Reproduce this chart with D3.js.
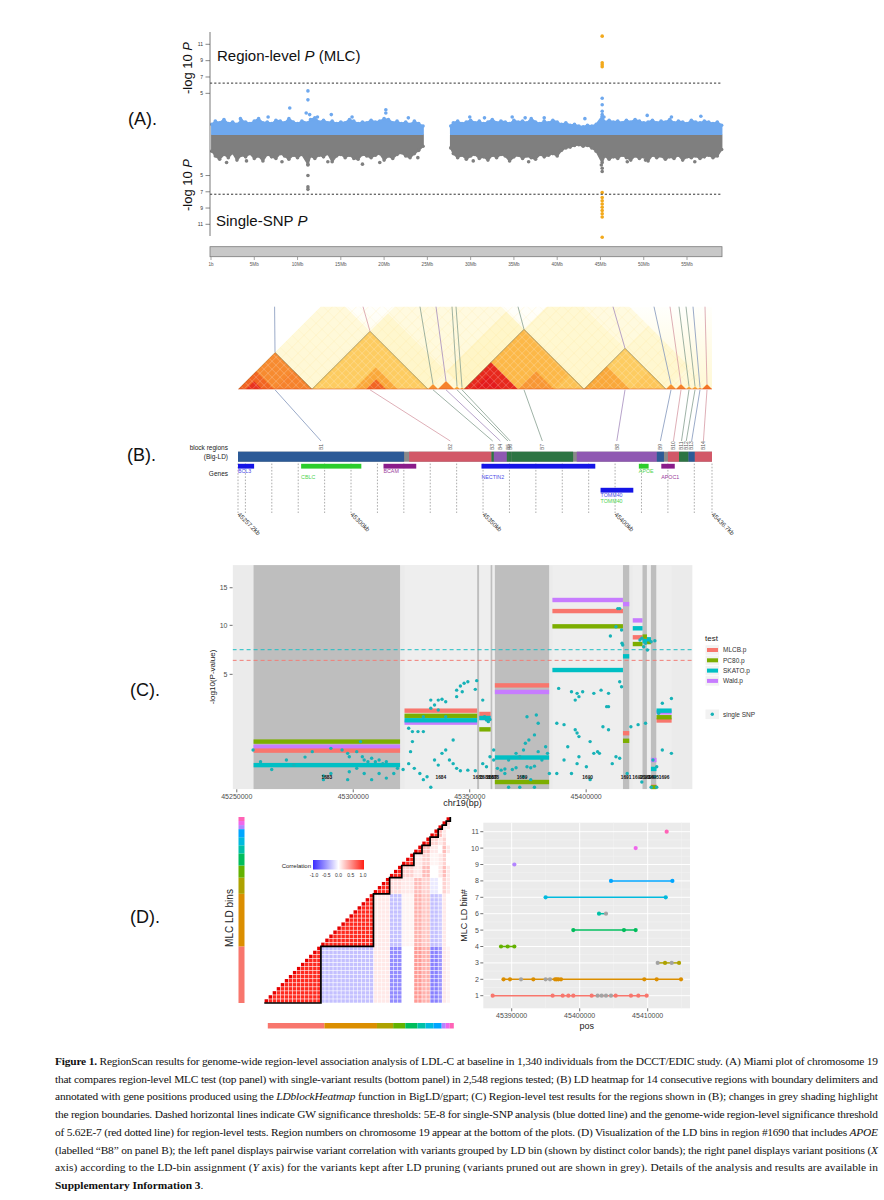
<!DOCTYPE html>
<html><head><meta charset="utf-8">
<script src="https://cdn.jsdelivr.net/npm/d3@7"></script>
<style>body{margin:0;background:#fff}svg{display:block}</style>
</head><body>
<script>
// ======================= DATA =======================
// ---- Panel A (Miami plot, chromosome 19) ----
const chrTicksMb = [0,5,10,15,20,25,30,35,40,45,50,55];
const chrTickLabels = ["1b","5Mb","10Mb","15Mb","20Mb","25Mb","30Mb","35Mb","40Mb","45Mb","50Mb","55Mb"];
const yTicksA = [5,7,9,11];
const cloudMbL = [0.1,0.5,1,1.5,2,2.5,3,3.5,4,4.5,5,5.5,6,6.5,7,7.5,8,8.5,9,9.5,10,10.5,11.2,11.5,12,12.5,13,13.5,14,14.5,15,15.5,16,16.5,17,17.5,18,18.5,19,19.5,20,20.5,21,21.5,22,22.5,23,23.5,24,24.5];
const cloudTopL = [1.2,1.6,1.4,1.8,1.3,1.5,1.2,1.7,1.5,1.3,1.6,1.9,1.4,1.5,1.3,1.7,1.6,1.4,1.9,1.5,1.3,1.6,1.4,1.8,2.0,1.5,1.7,1.4,1.6,1.3,1.5,1.4,1.8,1.6,1.3,1.5,1.4,1.7,1.5,1.6,1.9,1.8,1.4,1.6,1.3,1.5,1.2,1.6,1.3,1.0];
const cloudBotL = [2.0,2.6,3.0,2.4,2.8,2.2,3.1,2.5,2.7,2.3,2.9,2.6,3.2,2.4,2.7,2.9,2.3,2.6,3.0,2.5,2.8,2.4,3.6,2.6,2.9,2.5,2.7,2.3,3.3,2.6,2.4,2.8,2.5,2.9,3.0,2.4,2.6,2.8,2.5,2.3,3.1,2.6,2.9,2.4,2.2,2.6,2.8,2.3,1.9,1.4];
const cloudMbR = [27.7,28,28.5,29,29.5,30,30.5,31,31.5,32,32.5,33,33.5,34,34.5,35,35.5,36,36.5,37,37.5,38,38.5,39,39.5,40,40.5,41,41.5,42,42.5,43,43.5,44,44.5,45.2,45.5,46,46.5,47,47.5,48,48.5,49,49.5,50,50.5,51,51.5,52,52.5,53,53.5,54,54.5,55,55.5,56,56.5,57,57.5,58,58.5,59];
const cloudTopR = [1.0,1.4,1.6,1.3,1.5,1.7,1.4,1.6,1.3,1.5,1.8,1.4,1.6,1.5,1.3,1.7,1.5,1.6,1.4,1.9,1.5,1.3,1.6,1.4,1.7,1.5,1.2,1.4,1.1,1.2,1.0,0.9,1.1,1.0,1.2,2.2,1.5,1.7,1.5,1.6,1.4,1.7,1.5,1.8,1.6,1.4,1.5,1.7,1.4,1.6,1.5,1.8,1.4,1.6,1.5,1.3,1.7,1.5,1.4,1.6,1.5,1.3,1.5,1.1];
const cloudBotR = [1.6,2.3,2.8,2.5,3.0,2.6,2.4,2.9,2.7,3.1,2.5,2.8,2.4,2.6,3.2,2.7,2.5,2.9,2.6,2.8,3.0,2.4,2.7,2.5,2.3,2.6,1.9,1.6,1.5,1.3,1.2,1.4,1.3,1.6,2.0,3.4,2.6,3.0,2.7,2.9,2.5,2.8,3.1,2.6,2.9,2.7,3.2,2.5,2.8,2.6,3.0,2.7,2.9,2.5,3.1,2.7,2.8,2.6,2.9,2.7,2.5,2.8,2.6,1.8];
const topBlueOut = [[9.1,3.2],[11.2,5.3],[11.2,4.2],[11.0,2.6],[11.4,2.4],[12.3,2.1],[13.9,2.4],[20.2,3.0],[20.2,2.6],[6.6,2.1],[3.4,1.9],[16.3,2.1],[22.8,2.0],[45.2,4.4],[45.2,3.6],[45.2,2.8],[45.2,2.4],[45.4,2.1],[50.4,2.3],[56.6,2.2],[34.8,2.1],[36.3,2.0],[43.2,1.9],[31.6,2.0],[29.9,2.1],[38.5,2.0],[53.2,2.1]];
const topOrange = [[45.2,12.0],[45.2,8.75],[45.2,8.5],[45.2,8.26]];
const botGreyOut = [[11.2,3.7],[11.2,5.0],[11.2,6.4],[11.2,6.7],[17.5,3.6],[4.1,3.2],[13.5,3.3],[45.2,4.5],[45.2,4.1],[45.1,3.7],[1.8,3.4],[23.9,2.8],[48.1,3.3],[50.2,3.1],[55.9,3.3],[8.2,3.3],[30.3,3.2],[36.7,3.3],[19.5,3.4]];
const botOrange = [[45.2,7.1],[45.2,7.7],[45.2,8.1],[45.2,8.5],[45.2,8.9],[45.2,9.3],[45.2,9.7],[45.2,10.1],[45.2,12.6]];
const thrRegion = 6.25, thrSnp = 7.3;

// ---- Panel B (LD heatmap, Big-LD blocks, genes) ----
const blockNames = ["B1","B2","B3","B4","B5","B6","B7","B8","B9","B10","B11","B12","B13","B14"];
const blockStartKb = [45257.2,45322.0,45353.2,45354.1,45359.0,45359.8,45360.8,45385.5,45415.8,45420.0,45424.2,45426.1,45427.8,45430.2];
const blockEndKb = [45320.1,45353.2,45354.1,45359.0,45359.8,45360.8,45384.1,45415.8,45418.5,45424.2,45426.1,45427.8,45430.2,45436.7];
const blockColorName = ["blue","red","green","purple","green","green","green","purple","blue","red","green","green","blue","red"];
const blockSnpStart = [0,37,95,100,108,111,113,173,214,219,224,227,230,232];
const blockSnpEnd = [37,95,100,108,111,113,173,214,219,224,227,230,232,237];
const blockTopIdx = [18.3,62.5,91,99,107,109,140,187.5,208,216,220.5,224,227.5,233.5];
const blockLD = [0.72,0.45,0.6,0.65,0.6,0.6,0.55,0.45,0.6,0.65,0.6,0.6,0.6,0.55];
const totalSnps = 237;
const hmSubs = [[0,18,0.85],[18,37,0.75],[4,12,0.95],[37,58,0.45],[58,80,0.62],[64,74,0.85],[80,95,0.45],[95,100,0.7],[100,108,0.75],[113,140,0.97],[118,132,1],[140,158,0.68],[158,173,0.5],[173,196,0.62],[196,214,0.48],[214,219,0.7],[219,224,0.75],[232,237,0.8]];
const hmBetween = [[0,37,37,95,0.06],[37,95,95,113,0.1],[95,113,113,173,0.12],[113,173,173,214,0.09],[173,214,214,237,0.08],[37,95,113,173,0.04],[113,173,214,237,0.04]];
const geneNames = ["BCL3","CBLC","BCAM","NECTIN2","TOMM40","APOE","APOC1"];
const geneStartKb = [45257.2,45281.1,45312.3,45349.4,45394.5,45409.0,45417.5];
const geneEndKb = [45263.3,45303.9,45324.7,45392.5,45406.9,45412.7,45422.6];
const geneRow = [0,0,0,0,1,0,0];
const geneColorName = ["blue","green","purple","blue","blue","green","purple"];
const gridKb = [45257.2,45260,45270,45280,45290,45300,45310,45320,45330,45340,45350,45360,45370,45380,45390,45400,45410,45420,45430,45436.7];
const kbTickVals = [45257.2,45300,45350,45400,45436.7];
const kbTickLabels = ["45257.2kb","45300kb","45350kb","45400kb","45436.7kb"];

// ---- Panel C (region-level tests) ----
const regionIds = [1683,1684,1685,1686,1687,1688,1689,1690,1691,1692,1693,1694,1695,1696];
const testNames = ["MLCB.p","PC80.p","SKATO.p","Wald.p"];
const mlcbP = [0.63,2.40,null,2.21,null,null,4.11,11.78,1.26,8.62,8.4,8.3,0.012,1.86];
const pc80P = [0.93,2.11,null,1.43,null,null,0.04,9.88,0.96,7.89,8.7,8.1,0.01,2.03];
const skatoP = [0.27,1.87,null,1.99,null,null,0.44,5.37,6.64,9.65,8.2,8.4,0.2,2.4];
const waldP = [0.75,1.75,null,1.99,null,null,3.62,13.26,12.7,10.6,8.5,8.2,0.38,2.3];
const yTicksC = [5,10,15];
const xTicksC = [45250000,45300000,45350000,45400000];
const singleSnp = [
[45257.0,0.65],[45260.2,0.34],[45265.0,0.19],[45271.3,0.38],[45279.3,0.45],[45282.4,0.60],[45290.4,0.70],[45295.2,0.65],[45297.6,0.55],[45298.3,0.46],
[45301.5,0.60],[45303.1,0.93],[45303.9,0.46],[45304.7,0.38],[45306.3,0.34],[45307.9,0.42],[45309.5,0.34],[45311.1,0.38],[45312.7,0.30],[45314.2,0.34],
[45290.4,0.13],[45287.2,0.10],[45298.3,0.156],[45304.7,0.13],[45311.1,0.13],[45314.2,0.075],[45317.4,0.13],[45301.5,0.21],[45274.5,0.27],[45287.2,0.06],
[45297.6,0.06],[45307.9,0.06],[45319.0,0.21],
[45321.4,0.19],[45323.8,0.30],[45324.6,0.60],[45326.2,0.21],[45328.6,0.13],[45330.1,0.06],[45331.7,0.09],[45333.3,0.01],[45334.9,0.38],[45336.5,0.27],
[45338.1,0.55],[45339.7,0.65],[45341.3,0.38],[45342.9,0.30],[45344.4,0.21],[45346.0,0.17],[45349.2,0.18],[45352.4,0.17],[45325.4,1.33],[45327.8,1.33],
[45330.1,1.33],[45323.8,1.48],[45330.1,2.06],[45333.3,3.06],[45336.5,3.06],[45338.1,3.11],[45339.7,2.95],[45334.9,2.74],[45333.3,2.54],[45336.5,2.44],
[45344.4,3.75],[45346.0,4.06],[45347.6,4.27],[45349.2,4.39],[45352.4,3.81],[45346.8,3.64],[45344.4,3.29],[45353.0,4.48],[45339.7,2.06],[45342.9,0.99],[45325.4,0.93],
[45356.4,2.06],[45358.0,1.80],[45358.7,1.91],[45357.2,1.88],[45355.6,3.06],[45357.2,0.24],[45355.6,0.30],[45360.3,0.38],[45358.7,0.46],[45360.3,0.65],
[45361.9,0.21],[45365.1,0.20],[45369.9,0.22],[45374.6,0.24],[45377.8,0.25],[45381.0,0.38],[45383.4,0.55],[45382.6,0.75],[45379.4,0.60],[45373.9,0.87],
[45373.1,0.65],[45375.4,0.99],[45377.8,1.19],[45379.4,1.72],[45374.6,2.06],[45378.6,2.15],[45369.9,0.55],[45371.5,0.46],[45366.7,0.38],[45365.1,0.13],
[45373.1,0.09],[45376.2,0.06],[45366.7,0.01],[45371.5,0.01],[45377.8,0.01],[45384.2,0.13],[45363.5,0.18],[45368.3,0.19],[45376.2,0.22],
[45388.2,3.88],[45393.7,3.64],[45396.1,3.52],[45396.9,3.29],[45395.3,3.06],[45398.5,3.64],[45403.3,3.52],[45409.6,3.52],[45409.6,2.64],[45406.4,3.75],
[45415.2,4.01],[45414.4,4.39],[45410.4,8.76],[45412.8,9.84],[45413.6,12.1],[45414.4,12.1],[45415.2,9.45],[45415.4,7.97],[45415.7,7.79],[45387.4,1.72],
[45390.5,1.65],[45395.3,1.41],[45396.1,1.27],[45396.9,1.12],[45392.1,0.75],[45401.7,0.93],[45404.9,0.60],[45405.7,0.55],[45407.2,1.55],[45409.6,1.41],
[45412.8,0.46],[45414.4,0.42],[45411.2,0.30],[45400.1,0.24],[45401.7,0.06],[45393.7,0.13],[45387.4,0.13],[45390.5,0.38],[45396.9,0.46],[45396.1,0.30],
[45403.3,0.55],[45408.8,2.64],
[45419.2,1.55],[45422.3,1.65],[45423.9,8.51],[45423.1,8.32],[45424.7,7.61],[45425.5,7.97],[45426.3,7.27],[45425.5,1.72],[45427.9,8.14],[45429.5,8.25],
[45431.1,2.25],[45432.7,2.85],[45432.7,0.65],[45436.6,3.17],[45436.6,0.55],[45428.7,0.38],[45430.3,0.24],[45423.9,0.04],[45429.5,0.09],[45427.9,0.01],
[45430.3,0.01],[45417.6,0.13]];

// ---- Panel D (LD bins of region #1690) ----
const ldBinSizes = [14,13,4,3,3,2,2,2,1,1,1];
const ldCorr = [
 [0.95,-0.3,0.1,-0.55,0.0,0.45,0.35,-0.6,-0.5,0.1,0.05],
 [0.95,0.1,-0.3,0.05,0.35,0.25,-0.3,-0.25,0.1,0.0],
 [0.95,0.15,0.1,0.3,0.2,-0.1,0.0,0.2,0.1],
 [0.95,0.2,0.1,0.3,0.0,0.1,0.3,0.1],
 [0.95,0.1,0.2,0.05,0.1,0.2,0.0],
 [0.95,0.3,0.1,0.0,0.3,0.1],
 [0.95,0.2,0.1,0.2,0.0],
 [0.95,0.3,0.1,0.0],
 [0.95,0.1,0.1],
 [0.95,0.2],
 [0.95]];
const corrLegendTicks = [-1,-0.5,0,0.5,1];
const corrLegendLabels = ["-1.0","-0.5","0.0","0.5","1.0"];
const binKeptPos = [
 [45387200,45396020,45397500,45398330,45399060,45401760,45405290,45407540,45408620,45409850],
 [45388800,45389750,45393180,45396370,45396610,45396860,45397250,45409500,45411320,45414900],
 [45412550,45414610],
 [45388430,45389400,45390390],
 [45399060,45406510,45408230],
 [45402840],
 [45394990,45412650],
 [45404600,45413630],
 [45390390],
 [45408230],
 [45412790]];
const binPrunedPos = [
 [45402640,45403230,45403870,45404600],
 [45391370,45394990,45395630],
 [45411470,45413530],
 [],[],
 [45403870],
 [],[],[],[],[]];
const binTicks = [1,2,3,4,5,6,7,8,9,10,11];
const posTicks = [45390000,45400000,45410000];

// ---- Caption ----
const captionLines = [
 [["Figure 1.","b"],[" RegionScan results for genome-wide region-level association analysis of LDL-C at baseline in 1,340 individuals from the DCCT/EDIC study. (A) Miami plot of chromosome 19",""]],
 [["that compares region-level MLC test (top panel) with single-variant results (bottom panel) in 2,548 regions tested; (B) LD heatmap for 14 consecutive regions with boundary delimiters and",""]],
 [["annotated with gene positions produced using the ",""],["LDblockHeatmap","i"],[" function in BigLD/gpart; (C) Region-level test results for the regions shown in (B); changes in grey shading highlight",""]],
 [["the region boundaries. Dashed horizontal lines indicate GW significance thresholds: 5E-8 for single-SNP analysis (blue dotted line) and the genome-wide region-level significance threshold",""]],
 [["of 5.62E-7 (red dotted line) for region-level tests. Region numbers on chromosome 19 appear at the bottom of the plots. (D) Visualization of the LD bins in region #1690 that includes ",""],["APOE","i"]],
 [["(labelled \u201cB8\u201d on panel B); the left panel displays pairwise variant correlation with variants grouped by LD bin (shown by distinct color bands); the right panel displays variant positions (",""],["X","i"]],
 [["axis) according to the LD-bin assignment (",""],["Y","i"],[" axis) for the variants kept after LD pruning (variants pruned out are shown in grey). Details of the analysis and results are available in",""]],
 [["Supplementary Information 3","b"],[".",""]]];
const panelLabels = ["(A).","(B).","(C).","(D)."];

// ======================= DRAWING =======================
const sans = '"Liberation Sans", Arial, Helvetica, sans-serif';
const serif = '"Liberation Serif", "Times New Roman", serif';
const svg = d3.select("body").append("svg").attr("width",884).attr("height",1200)
  .attr("font-family",sans);
const defs = svg.append("defs");

const labelPos = [[128,125],[127,461],[130,696],[130,923]];
panelLabels.forEach((t,i)=>svg.append("text").attr("x",labelPos[i][0]).attr("y",labelPos[i][1])
  .attr("font-size",18).attr("fill","#111").text(t));

// ---------- Panel A ----------
(function(){
  const g = svg.append("g");
  const x = d3.scaleLinear().domain([0,59.1]).range([211,722.5]);
  const yT = d3.scaleLinear().domain([0,11]).range([134.2,44.3]);
  const yB = d3.scaleLinear().domain([0,11]).range([134.9,224.3]);
  const blue="#6ea8ee", grey="#7f7f7f", orange="#f2a91c";
  const mk=(mb,v)=>mb.map((m,i)=>({mb:m,v:v[i]}));
  const segs=[[mk(cloudMbL,cloudTopL),mk(cloudMbL,cloudBotL)],[mk(cloudMbR,cloudTopR),mk(cloudMbR,cloudBotR)]];
  segs.forEach(([top,bot])=>{
    const aT=d3.area().x(d=>x(d.mb)).y0(yT(0)).y1(d=>yT(d.v));
    const aB=d3.area().x(d=>x(d.mb)).y0(yB(0)).y1(d=>yB(d.v));
    g.append("path").attr("d",aB(bot)).attr("fill",grey).attr("stroke",grey).attr("stroke-width",1.6).attr("stroke-linejoin","round");
    g.append("path").attr("d",aT(top)).attr("fill",blue).attr("stroke",blue).attr("stroke-width",1.6).attr("stroke-linejoin","round");
    g.selectAll(null).data(top).join("circle").attr("cx",d=>x(d.mb)).attr("cy",d=>yT(d.v)).attr("r",1.8).attr("fill",blue);
    g.selectAll(null).data(bot).join("circle").attr("cx",d=>x(d.mb)).attr("cy",d=>yB(d.v)).attr("r",1.8).attr("fill",grey);
  });
  const dots=(arr,ys,col)=>g.selectAll(null).data(arr).join("circle").attr("cx",d=>x(d[0])).attr("cy",d=>ys(d[1])).attr("r",1.8).attr("fill",col);
  dots(topBlueOut,yT,blue); dots(botGreyOut,yB,grey); dots(topOrange,yT,orange); dots(botOrange,yB,orange);
  [[yT(thrRegion)],[yB(thrSnp)]].forEach(([yy])=>g.append("line").attr("x1",210).attr("x2",722).attr("y1",yy).attr("y2",yy)
    .attr("stroke","#333").attr("stroke-width",1).attr("stroke-dasharray","2.2,2"));
  g.append("line").attr("x1",210).attr("x2",210).attr("y1",32).attr("y2",236).attr("stroke","#555").attr("stroke-width",0.8);
  [[yT],[yB]].forEach(([ys])=>{
    yTicksA.forEach(t=>{
      g.append("line").attr("x1",205.5).attr("x2",210).attr("y1",ys(t)).attr("y2",ys(t)).attr("stroke","#555").attr("stroke-width",0.7);
      g.append("text").attr("x",203).attr("y",ys(t)+1.8).attr("text-anchor","end").attr("font-size",5).attr("fill","#333").text(t);
    });
  });
  [[68],[185]].forEach(([cy])=>{
    const t=g.append("text").attr("transform",`translate(192,${cy}) rotate(-90)`).attr("text-anchor","middle").attr("font-size",13).attr("fill","#111");
    t.append("tspan").text("-log 10 "); t.append("tspan").attr("font-style","italic").text("P");
  });
  const t1=g.append("text").attr("x",217).attr("y",61).attr("font-size",15).attr("fill","#111");
  t1.append("tspan").text("Region-level "); t1.append("tspan").attr("font-style","italic").text("P"); t1.append("tspan").text(" (MLC)");
  const t2=g.append("text").attr("x",216).attr("y",226).attr("font-size",15).attr("fill","#111");
  t2.append("tspan").text("Single-SNP "); t2.append("tspan").attr("font-style","italic").text("P");
  g.append("rect").attr("x",210).attr("y",246.7).attr("width",512).attr("height",10).attr("fill","#c8c8c8").attr("stroke","#7a7a7a").attr("stroke-width",0.8);
  chrTicksMb.forEach((m,i)=>{
    g.append("line").attr("x1",x(m)).attr("x2",x(m)).attr("y1",257).attr("y2",260).attr("stroke","#666").attr("stroke-width",0.6);
    g.append("text").attr("x",x(m)).attr("y",265.5).attr("text-anchor","middle").attr("font-size",4.6).attr("fill","#555").text(chrTickLabels[i]);
  });
})();

// ---------- Panel B ----------
(function(){
  const g = svg.append("g");
  const base=389.3, top=306.7;
  const X = d3.scaleLinear().domain([0,totalSnps]).range([238,712]);
  const xKb = d3.scaleLinear().domain([45257.2,45436.7]).range([238,712]);
  const ldCol = d3.scaleLinear().domain([0,0.3,0.6,0.85,1]).range(["#fffbe6","#ffe985","#fbae3c","#f26522","#e41a1c"]);
  const poly=[[238,base],[238+(base-top),top],[712,top],[712,base]];
  defs.append("clipPath").attr("id","hmclip").append("polygon").attr("points",poly.map(p=>p.join(",")).join(" "));
  const gr=defs.append("linearGradient").attr("id","hmbg").attr("x1",0).attr("x2",0).attr("y1",0).attr("y2",1);
  gr.append("stop").attr("offset",0).attr("stop-color","#fffffc");
  gr.append("stop").attr("offset",1).attr("stop-color","#fff8d4");
  const hm=g.append("g").attr("clip-path","url(#hmclip)");
  hm.append("polygon").attr("points",poly.map(p=>p.join(",")).join(" ")).attr("fill","url(#hmbg)");
  const P=(a,b)=>[(X(a)+X(b))/2, base-(X(b)-X(a))/2];
  hmBetween.forEach(([s1,e1,s2,e2,v])=>{
    const pts=[P(e1,s2),P(s1,s2),P(s1,e2),P(e1,e2)];
    hm.append("polygon").attr("points",pts.map(p=>p.join(",")).join(" ")).attr("fill",ldCol(v)).attr("opacity",0.8);
  });
  for(let k=0;k<=totalSnps;k+=6){
    const a=P(k,k), r=P(k,totalSnps), l=P(0,k);
    hm.append("line").attr("x1",a[0]).attr("y1",a[1]).attr("x2",r[0]).attr("y2",r[1]).attr("stroke","#f7d56a").attr("stroke-opacity",0.3).attr("stroke-width",0.5);
    hm.append("line").attr("x1",a[0]).attr("y1",a[1]).attr("x2",l[0]).attr("y2",l[1]).attr("stroke","#f7d56a").attr("stroke-opacity",0.2).attr("stroke-width",0.5);
  }
  const tri=(s,e)=>[[X(s),base],[X(e),base],[(X(s)+X(e))/2, base-(X(e)-X(s))/2]];
  blockNames.forEach((b,i)=>{
    hm.append("polygon").attr("points",tri(blockSnpStart[i],blockSnpEnd[i]).map(p=>p.join(",")).join(" ")).attr("fill",ldCol(blockLD[i]));
  });
  hmSubs.forEach(([s,e,v])=>hm.append("polygon").attr("points",tri(s,e).map(p=>p.join(",")).join(" ")).attr("fill",ldCol(v)));
  blockNames.forEach((b,i)=>{
    const s=blockSnpStart[i], e=blockSnpEnd[i];
    if(e-s<20) return;
    for(let k=s+3;k<e;k+=4){
      const a=P(k,k), bb=P(k,e); const c=P(s,k);
      hm.append("line").attr("x1",a[0]).attr("y1",a[1]).attr("x2",bb[0]).attr("y2",bb[1]).attr("stroke","#fff").attr("stroke-opacity",0.4).attr("stroke-width",0.6);
      hm.append("line").attr("x1",a[0]).attr("y1",a[1]).attr("x2",c[0]).attr("y2",c[1]).attr("stroke","#fff").attr("stroke-opacity",0.4).attr("stroke-width",0.6);
    }
  });
  blockNames.forEach((b,i)=>{
    if(blockSnpEnd[i]-blockSnpStart[i]<20) return;
    const t=tri(blockSnpStart[i],blockSnpEnd[i]);
    hm.append("polyline").attr("points",[t[0],t[2],t[1]].map(p=>p.join(",")).join(" ")).attr("fill","none").attr("stroke","#6b6b4a").attr("stroke-width",0.7).attr("stroke-opacity",0.8);
  });
  hm.append("line").attr("x1",238).attr("x2",712).attr("y1",base).attr("y2",base).attr("stroke","#d23a1a").attr("stroke-width",1);
  const lineCol={blue:"#8196bb",red:"#d59aa4",green:"#86a090",purple:"#a48cbc"};
  blockNames.forEach((b,i)=>{
    const s=blockSnpStart[i], e=blockSnpEnd[i];
    const ax=(X(s)+X(e))/2, ay=base-(X(e)-X(s))/2;
    const bx=xKb((blockStartKb[i]+blockEndKb[i])/2);
    const c=lineCol[blockColorName[i]];
    g.append("line").attr("x1",X(blockTopIdx[i])).attr("y1",top).attr("x2",ax).attr("y2",ay).attr("stroke",c).attr("stroke-width",0.8);
    g.append("line").attr("x1",ax).attr("y1",base+0.5).attr("x2",bx).attr("y2",441).attr("stroke",c).attr("stroke-width",0.8);
    g.append("text").attr("transform",`translate(${bx+1.7},450) rotate(-90)`).attr("font-size",5).attr("fill","#555").text(b);
  });
  const barCol={blue:"#2c5a97",red:"#d25868",green:"#2d7443",purple:"#8f58b2"};
  g.append("rect").attr("x",238).attr("y",451.7).attr("width",474).attr("height",10).attr("fill","#8a8a8a");
  blockNames.forEach((b,i)=>g.append("rect").attr("x",xKb(blockStartKb[i])).attr("y",451.7)
    .attr("width",Math.max(0.8,xKb(blockEndKb[i])-xKb(blockStartKb[i]))).attr("height",10).attr("fill",barCol[blockColorName[i]]));
  g.append("text").attr("x",228).attr("y",450).attr("text-anchor","end").attr("font-size",6.5).attr("fill","#222").text("block regions");
  g.append("text").attr("x",228).attr("y",459).attr("text-anchor","end").attr("font-size",6.5).attr("fill","#222").text("(Big-LD)");
  g.append("text").attr("x",228).attr("y",476).attr("text-anchor","end").attr("font-size",6.5).attr("fill","#222").text("Genes");
  gridKb.forEach(k=>g.append("line").attr("x1",xKb(k)).attr("x2",xKb(k)).attr("y1",463.5).attr("y2",513)
    .attr("stroke","#8a8a8a").attr("stroke-width",0.7).attr("stroke-dasharray","1.6,1.6"));
  const geneCol={blue:"#1414e6",green:"#2ccc2c",purple:"#8a1c8a"};
  const geneLabCol={blue:"#4b4be8",green:"#4ed34e",purple:"#9a3a9a"};
  const labelDy=[0,1,0,1,0,0,1];
  geneNames.forEach((n,i)=>{
    const y0 = geneRow[i]===0?463.8:487.8;
    g.append("rect").attr("x",xKb(geneStartKb[i])).attr("y",y0).attr("width",xKb(geneEndKb[i])-xKb(geneStartKb[i])).attr("height",4.8).attr("fill",geneCol[geneColorName[i]]);
    const ly = geneRow[i]===0 ? (labelDy[i]?478.5:473) : 496.5;
    g.append("text").attr("x",xKb(geneStartKb[i])).attr("y",ly).attr("font-size",5.3).attr("fill",geneLabCol[geneColorName[i]]).text(n);
    if(n==="TOMM40") g.append("text").attr("x",xKb(geneStartKb[i])).attr("y",502.5).attr("font-size",5.3).attr("fill",geneLabCol.green).text(n);
  });
  kbTickVals.forEach((k,i)=>g.append("text").attr("transform",`translate(${xKb(k)-1},515) rotate(45)`).attr("font-size",6.3).attr("fill","#333").text(kbTickLabels[i]));
})();

// ---------- Panel C ----------
(function(){
  const g=svg.append("g");
  const x=d3.scaleLinear().domain([45248.2,45445.7]).range([232.6,692.6]);
  const y=d3.scaleSqrt().domain([0,18.5]).range([792.6,565.1]);
  const pTop=565.1, pBot=789.3;
  defs.append("clipPath").attr("id","cclip").append("rect").attr("x",232.6).attr("y",pTop).attr("width",460).attr("height",pBot-pTop);
  const pg=g.append("g").attr("clip-path","url(#cclip)");
  pg.append("rect").attr("x",232.6).attr("y",pTop).attr("width",460).attr("height",pBot-pTop).attr("fill","#ebebeb");
  regionIds.forEach((r,i)=>{
    pg.append("rect").attr("x",x(blockStartKb[i])).attr("y",pTop).attr("width",Math.max(0.8,x(blockEndKb[i])-x(blockStartKb[i])))
      .attr("height",pBot-pTop).attr("fill",i%2===0?"#bebebe":"#eeeeee");
  });
  pg.append("line").attr("x1",232.6).attr("x2",692.6).attr("y1",y(thrSnp)).attr("y2",y(thrSnp)).attr("stroke","#1fbfc4").attr("stroke-width",1).attr("stroke-dasharray","4,3");
  pg.append("line").attr("x1",232.6).attr("x2",692.6).attr("y1",y(thrRegion)).attr("y2",y(thrRegion)).attr("stroke","#f27f78").attr("stroke-width",1).attr("stroke-dasharray","4,3");
  const testCols={"MLCB.p":"#F8766D","PC80.p":"#7CAE00","SKATO.p":"#00BFC4","Wald.p":"#C77CFF"};
  const order=[["Wald.p",waldP],["MLCB.p",mlcbP],["PC80.p",pc80P],["SKATO.p",skatoP]];
  order.forEach(([nm,vals])=>{
    vals.forEach((v,i)=>{ if(v===null) return;
      pg.append("rect").attr("x",x(blockStartKb[i])).attr("width",Math.max(1.5,x(blockEndKb[i])-x(blockStartKb[i])))
        .attr("y",y(v)-2.2).attr("height",4.4).attr("fill",testCols[nm]);
    });
  });
  pg.selectAll(null).data(singleSnp).join("circle").attr("cx",d=>x(d[0])).attr("cy",d=>y(d[1])).attr("r",1.7).attr("fill","#17b2b7");
  regionIds.forEach((r,i)=>pg.append("text").attr("x",x((blockStartKb[i]+blockEndKb[i])/2)).attr("y",779).attr("text-anchor","middle")
    .attr("font-size",4.8).attr("font-weight","bold").attr("fill","#111").text(r));
  yTicksC.forEach(t=>{
    g.append("line").attr("x1",229.6).attr("x2",232.6).attr("y1",y(t)).attr("y2",y(t)).attr("stroke","#333").attr("stroke-width",0.7);
    g.append("text").attr("x",227.5).attr("y",y(t)+2.4).attr("text-anchor","end").attr("font-size",7).attr("fill","#4d4d4d").text(t);
  });
  xTicksC.forEach(t=>{
    const xx=x(t/1000);
    g.append("line").attr("x1",xx).attr("x2",xx).attr("y1",pBot).attr("y2",pBot+3).attr("stroke","#333").attr("stroke-width",0.7);
    g.append("text").attr("x",xx).attr("y",pBot+9.5).attr("text-anchor","middle").attr("font-size",7).attr("fill","#4d4d4d").text(t);
  });
  g.append("text").attr("x",462.6).attr("y",806).attr("text-anchor","middle").attr("font-size",9).attr("fill","#222").text("chr19(bp)");
  g.append("text").attr("transform","translate(215,677) rotate(-90)").attr("text-anchor","middle").attr("font-size",8).attr("fill","#222").text("-log10(P-value)");
  g.append("text").attr("x",705).attr("y",641).attr("font-size",8).attr("fill","#222").text("test");
  testNames.forEach((n,i)=>{
    const yy=650+i*10.3;
    g.append("rect").attr("x",705.5).attr("y",yy-4.8).attr("width",13.5).attr("height",9.6).attr("fill","#f2f2f2");
    g.append("rect").attr("x",707).attr("y",yy-2).attr("width",11).attr("height",4).attr("fill",testCols[n]);
    g.append("text").attr("x",723).attr("y",yy+2.3).attr("font-size",6.5).attr("fill","#333").text(n);
  });
  g.append("rect").attr("x",705.5).attr("y",709.5).attr("width",13.5).attr("height",9.6).attr("fill","#f2f2f2");
  g.append("circle").attr("cx",712.3).attr("cy",714.3).attr("r",1.7).attr("fill","#17b2b7");
  g.append("text").attr("x",723).attr("y",716.6).attr("font-size",6.5).attr("fill","#333").text("single SNP");
})();

// ---------- Panel D left ----------
(function(){
  const g=svg.append("g");
  const N=d3.sum(ldBinSizes);
  const x0=264.3, yBase=1003, side=186;
  const cs=side/N;
  const binOf=[]; ldBinSizes.forEach((s,b)=>{for(let k=0;k<s;k++) binOf.push(b);});
  const starts=[]; let acc=0; ldBinSizes.forEach(s=>{starts.push(acc); acc+=s;});
  const hue=["#F8766D","#DB8E00","#AEA200","#64B200","#00BD5C","#00C1A7","#00BADE","#00A6FF","#B385FF","#EF67EB","#FF63B6"];
  const col=d3.scaleLinear().domain([-1,0,1]).range(["#3b2dff","#ffffff","#ff1f14"]);
  for(let r=0;r<N;r++){
    for(let c=r;c<N;c++){
      const br=binOf[r], bc=binOf[c];
      const v = c===r ? 1 : ldCorr[br][bc-br];
      g.append("rect").attr("x",x0+c*cs+0.3).attr("y",yBase-(r+1)*cs+0.3).attr("width",cs-0.6).attr("height",cs-0.6)
        .attr("fill", c===r ? "#e60000" : col(v));
    }
  }
  let path=`M${x0},${yBase}`;
  ldBinSizes.forEach((s,b)=>{
    const st=starts[b], en=st+s;
    path+=`L${x0+en*cs},${yBase-st*cs}L${x0+en*cs},${yBase-en*cs}`;
  });
  g.append("path").attr("d",path).attr("fill","none").attr("stroke","#000").attr("stroke-width",1.7);
  ldBinSizes.forEach((s,b)=>{
    g.append("rect").attr("x",238.5).attr("y",yBase-(starts[b]+s)*cs).attr("width",6).attr("height",s*cs).attr("fill",hue[b]);
    g.append("rect").attr("x",x0+starts[b]*cs+3.5).attr("y",1023).attr("width",s*cs).attr("height",5.5).attr("fill",hue[b]);
  });
  g.append("text").attr("transform","translate(233,918) rotate(-90)").attr("text-anchor","middle").attr("font-size",10).attr("fill","#222").text("MLC LD bins");
  const lg=defs.append("linearGradient").attr("id","corrg");
  [[0,"#3b2dff"],[0.5,"#ffffff"],[1,"#ff1f14"]].forEach(([o,c])=>lg.append("stop").attr("offset",o).attr("stop-color",c));
  const lx=d3.scaleLinear().domain([-1,1]).range([314,363]);
  g.append("rect").attr("x",313).attr("y",860).attr("width",51).attr("height",9.5).attr("fill","url(#corrg)");
  g.append("text").attr("x",311).attr("y",868).attr("text-anchor","end").attr("font-size",6).attr("fill","#222").text("Correlation");
  corrLegendTicks.forEach((t,i)=>g.append("text").attr("x",lx(t)).attr("y",876.5).attr("text-anchor","middle").attr("font-size",5).attr("fill","#333").text(corrLegendLabels[i]));
})();

// ---------- Panel D right ----------
(function(){
  const g=svg.append("g");
  const pL=483.3,pR=690,pT=822.7,pB=1008.3;
  const x=d3.scaleLinear().domain([45390000,45410000]).range([511.7,647.7]);
  const y=d3.scaleLinear().domain([1,11]).range([995.7,831.7]);
  const hue=["#F8766D","#DB8E00","#AEA200","#64B200","#00BD5C","#00C1A7","#00BADE","#00A6FF","#B385FF","#EF67EB","#FF63B6"];
  g.append("rect").attr("x",pL).attr("y",pT).attr("width",pR-pL).attr("height",pB-pT).attr("fill","#ebebeb");
  binTicks.forEach(t=>{ if(t<11) g.append("line").attr("x1",pL).attr("x2",pR).attr("y1",y(t+0.5)).attr("y2",y(t+0.5)).attr("stroke","#f5f5f5").attr("stroke-width",0.5); });
  [45385000,45395000,45405000,45415000].forEach(p=>{ if(x(p)>pL && x(p)<pR) g.append("line").attr("x1",x(p)).attr("x2",x(p)).attr("y1",pT).attr("y2",pB).attr("stroke","#f5f5f5").attr("stroke-width",0.5); });
  binTicks.forEach(t=>g.append("line").attr("x1",pL).attr("x2",pR).attr("y1",y(t)).attr("y2",y(t)).attr("stroke","#fff").attr("stroke-width",1));
  posTicks.forEach(p=>g.append("line").attr("x1",x(p)).attr("x2",x(p)).attr("y1",pT).attr("y2",pB).attr("stroke","#fff").attr("stroke-width",1));
  binKeptPos.forEach((kp,b)=>{
    const all=kp.concat(binPrunedPos[b]);
    const ext=d3.extent(all);
    if(ext[1]>ext[0]) g.append("line").attr("x1",x(ext[0])).attr("x2",x(ext[1])).attr("y1",y(b+1)).attr("y2",y(b+1)).attr("stroke",hue[b]).attr("stroke-width",1.5);
    binPrunedPos[b].forEach(p=>g.append("circle").attr("cx",x(p)).attr("cy",y(b+1)).attr("r",2.1).attr("fill","#a3a3a3"));
    kp.forEach(p=>g.append("circle").attr("cx",x(p)).attr("cy",y(b+1)).attr("r",2.1).attr("fill",hue[b]));
  });
  binTicks.forEach(t=>{
    g.append("line").attr("x1",pL-3).attr("x2",pL).attr("y1",y(t)).attr("y2",y(t)).attr("stroke","#333").attr("stroke-width",0.7);
    g.append("text").attr("x",pL-4.5).attr("y",y(t)+2.4).attr("text-anchor","end").attr("font-size",7).attr("fill","#4d4d4d").text(t);
  });
  posTicks.forEach(p=>{
    g.append("line").attr("x1",x(p)).attr("x2",x(p)).attr("y1",pB).attr("y2",pB+3).attr("stroke","#333").attr("stroke-width",0.7);
    g.append("text").attr("x",x(p)).attr("y",pB+9.5).attr("text-anchor","middle").attr("font-size",7).attr("fill","#4d4d4d").text(p);
  });
  g.append("text").attr("x",(pL+pR)/2).attr("y",1029).attr("text-anchor","middle").attr("font-size",9).attr("fill","#222").text("pos");
  g.append("text").attr("transform",`translate(467,${(pT+pB)/2}) rotate(-90)`).attr("text-anchor","middle").attr("font-size",9).attr("fill","#222").text("MLC LD bin#");
})();

// ---------- Caption ----------
captionLines.forEach((segs,i)=>{
  const t=svg.append("text").attr("x",55).attr("y",1065+i*17.7).attr("font-family",serif).attr("font-size",11.4).attr("fill","#111")
    .attr("xml:space","preserve");
  if(i<7) t.attr("textLength",823).attr("lengthAdjust","spacing");
  segs.forEach(([s,st])=>{ const ts=t.append("tspan").text(s); if(st==="b") ts.attr("font-weight","bold"); if(st==="i") ts.attr("font-style","italic"); });
});
</script>
</body></html>
